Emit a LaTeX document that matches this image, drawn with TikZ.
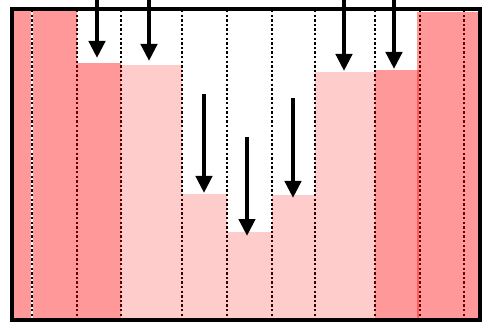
\documentclass[tikz,border=0pt]{standalone}
\usetikzlibrary{arrows.meta}
\begin{document}
\begin{tikzpicture}[x=1pt,y=-1pt,
  divider/.style={line width=2.6pt,dash pattern=on 2.4pt off 2.2pt},
  darkbar/.style={fill=red,fill opacity=0.4},
  lightbar/.style={fill=red,fill opacity=0.2},
  flowarrow/.style={line width=4.4pt,-{Triangle[width=16pt,length=17pt]}},
  frame/.style={line width=4pt,line join=miter}]
\useasboundingbox (0,0) rectangle (484,323);
% dividers
\foreach \x in {77,121,182,227,272,315,375,420,464}
  \draw[divider] (\x,10) -- (\x,319);
% bars
\fill[darkbar] (11.5,9) rectangle (77,320);
\fill[darkbar] (77,63) rectangle (121,320);
\fill[lightbar] (121,65) rectangle (182,320);
\fill[lightbar] (182,194) rectangle (227,320);
\fill[lightbar] (227,232) rectangle (272,320);
\fill[lightbar] (272,195) rectangle (315,320);
\fill[lightbar] (315,72) rectangle (375,320);
\fill[darkbar] (375,70) rectangle (418.5,320);
\fill[darkbar] (417,12) rectangle (480,320);
% divider drawn over the first bar
\draw[line width=2.6pt,white] (32,10) -- (32,319);
\draw[divider] (32,10) -- (32,319);
% frame
\draw[frame] (11.5,9) rectangle (480,320);
% arrows
\coordinate (a1s) at (97,-5);  \coordinate (a1e) at (97,58);
\coordinate (a2s) at (149,-5); \coordinate (a2e) at (149,61);
\coordinate (a3s) at (204,94); \coordinate (a3e) at (204,193);
\coordinate (a4s) at (247,137); \coordinate (a4e) at (247,236);
\coordinate (a5s) at (293,98); \coordinate (a5e) at (293,198);
\coordinate (a6s) at (344,-5); \coordinate (a6e) at (344,71);
\coordinate (a7s) at (394,-5); \coordinate (a7e) at (394,69);
\foreach \i in {1,...,7}
  \draw[flowarrow] (a\i s) -- (a\i e);
\end{tikzpicture}
\end{document}
